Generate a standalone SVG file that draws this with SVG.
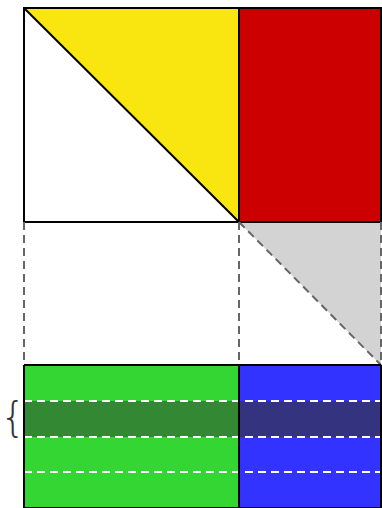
<svg xmlns="http://www.w3.org/2000/svg" width="382" height="508" viewBox="0 0 382 508">
<style>
.solid{stroke:#000;stroke-width:2;fill:none}
.dash{stroke:#666;stroke-width:2;stroke-dasharray:8,5;fill:none}
.wdash{stroke:#fff;stroke-width:2;stroke-dasharray:8,5;fill:none}
</style>
<rect width="382" height="508" fill="#fff"/>
<g id="top-square">
<polygon points="24,8 239,8 239,222" fill="#f9e610"/>
<polygon points="24,8 24,222 239,222" fill="#fff"/>
</g>
<g id="red-rect"><rect x="239" y="8" width="142" height="214" fill="#cc0000"/></g>
<g id="gray-triangle"><polygon points="239,222 381,222 381,365" fill="#d3d3d3"/></g>
<g id="green-rect"><rect x="24" y="365" width="215" height="143" fill="#33d633"/><rect x="24" y="401" width="215" height="36" fill="#338833"/></g>
<g id="blue-rect"><rect x="239" y="365" width="142" height="143" fill="#3333ff"/><rect x="239" y="401" width="142" height="36" fill="#333380"/></g>
<g id="connectors">
<path class="solid" d="M24,8 H381 V222 H24 Z M239,8 V222 M24,8 L239,222"/>
<path class="dash" d="M24,222 V365 M239,222 V365 M381,222 V365 M239,222 L381,365"/>
<path class="wdash" d="M24,401 H382 M24,437 H382 M24,472 H382"/>
<path class="solid" d="M24,365 H381 M24,365 V508 M239,365 V508 M381,365 V508 M24,508 H381"/>
</g>
<g id="brace"><text x="13" y="431" font-family="DejaVu Sans, sans-serif" font-weight="200" font-size="40" fill="#333" text-anchor="middle">{</text></g>
</svg>
